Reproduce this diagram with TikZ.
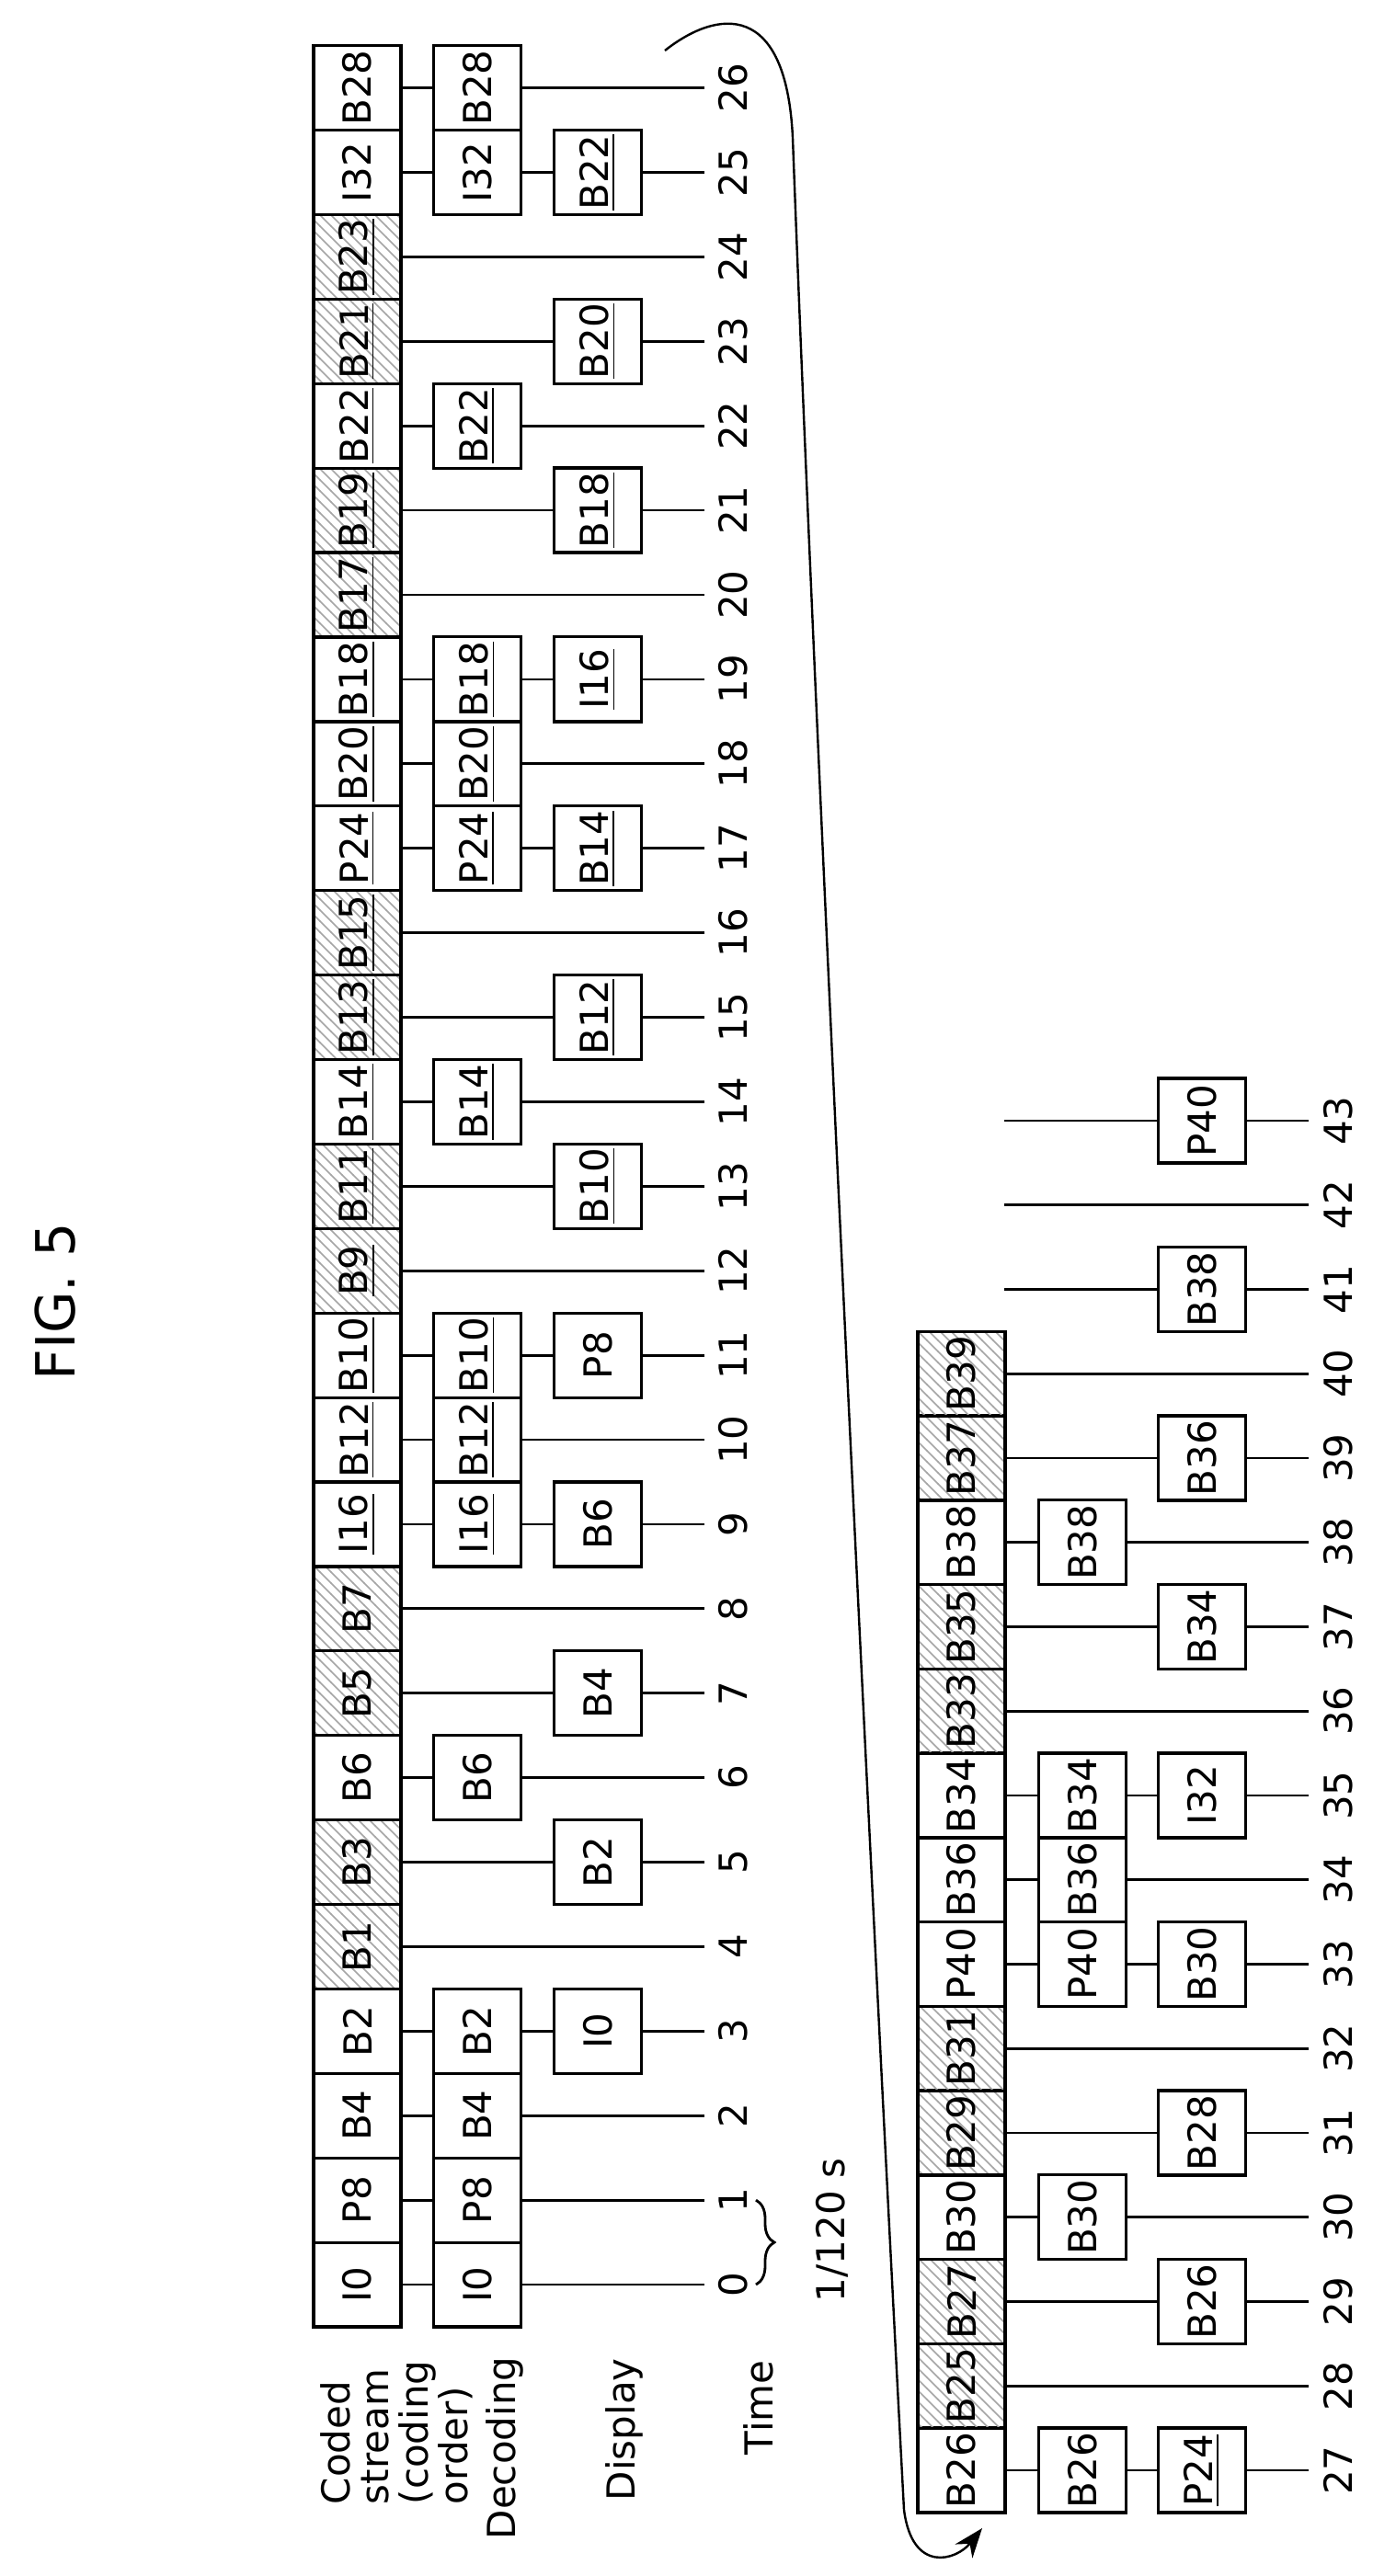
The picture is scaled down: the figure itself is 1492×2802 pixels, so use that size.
\documentclass[tikz,border=0pt]{standalone}
\usepackage{fontspec}
\setmainfont{DejaVu Sans}
\usetikzlibrary{patterns,arrows.meta,decorations.pathreplacing}
\begin{document}
\begin{tikzpicture}[x=0.25pt,y=-0.25pt,
 box/.style={draw,line width=0.8pt,rotate=90,minimum width=23pt,minimum height=23.75pt,inner sep=0pt,font=\fontsize{10.5}{12}\selectfont,fill=white},
 hatch/.style={draw,line width=0.8pt,rotate=90,minimum width=23pt,minimum height=23.75pt,inner sep=0pt,font=\fontsize{10.5}{12}\selectfont,pattern=north west lines,pattern color=gray!70},
 ln/.style={line width=0.7pt},
 lab/.style={rotate=90,font=\fontsize{10.5}{12}\selectfont,inner sep=0pt}]
\useasboundingbox (0,0) rectangle (1492,2802);
\fill[white] (0,0) rectangle (1492,2802);
% ---------- top half ----------
\foreach \t/\l/\s in {0/I0/box,1/P8/box,2/B4/box,3/B2/box,4/B1/hatch,5/B3/hatch,6/B6/box,7/B5/hatch,8/B7/hatch,
 9/\underline{I16}/box,10/\underline{B12}/box,11/\underline{B10}/box,12/\underline{B9}/hatch,13/\underline{B11}/hatch,
 14/\underline{B14}/box,15/\underline{B13}/hatch,16/\underline{B15}/hatch,17/\underline{P24}/box,18/\underline{B20}/box,
 19/\underline{B18}/box,20/\underline{B17}/hatch,21/\underline{B19}/hatch,22/\underline{B22}/box,23/\underline{B21}/hatch,
 24/\underline{B23}/hatch,25/I32/box,26/B28/box}{
  \node[\s] (c\t) at (388.5,{2485-91.9*\t}) {\l};
  \coordinate (e\t) at (766,{2485-91.9*\t});
  \node[lab] (n\t) at (797,{2485-91.9*\t}) {\t};
  \draw[ln] (c\t.south) -- (e\t);
}
\foreach \t/\l in {0/I0,1/P8,2/B4,3/B2,6/B6,9/\underline{I16},10/\underline{B12},11/\underline{B10},14/\underline{B14},
 17/\underline{P24},18/\underline{B20},19/\underline{B18},22/\underline{B22},25/I32,26/B28}{
  \node[box] (d\t) at (519,{2485-91.9*\t}) {\l};
}
\foreach \t/\l in {3/I0,5/B2,7/B4,9/B6,11/P8,13/\underline{B10},15/\underline{B12},17/\underline{B14},19/\underline{I16},
 21/\underline{B18},23/\underline{B20},25/\underline{B22}}{
  \node[box] (p\t) at (650,{2485-91.9*\t}) {\l};
}
% ---------- bottom half ----------
\foreach \t/\l/\s in {27/B26/box,28/B25/hatch,29/B27/hatch,30/B30/box,31/B29/hatch,32/B31/hatch,33/P40/box,
 34/B36/box,35/B34/box,36/B33/hatch,37/B35/hatch,38/B38/box,39/B37/hatch,40/B39/hatch}{
  \node[\s] (c\t) at (1045.5,{2687-91.75*(\t-27)}) {\l};
  \coordinate (e\t) at (1423,{2687-91.75*(\t-27)});
  \draw[ln] (c\t.south) -- (e\t);
}
\foreach \t in {41,42,43}{
  \coordinate (s\t) at (1092,{2687-91.75*(\t-27)});
  \coordinate (e\t) at (1423,{2687-91.75*(\t-27)});
  \draw[ln] (s\t) -- (e\t);
}
\foreach \t in {27,...,43}{
  \node[lab] (n\t) at (1455,{2687-91.75*(\t-27)}) {\t};
}
\foreach \t/\l in {27/B26,30/B30,33/P40,34/B36,35/B34,38/B38}{
  \node[box] (d\t) at (1177,{2687-91.75*(\t-27)}) {\l};
}
\foreach \t/\l in {27/\underline{P24},29/B26,31/B28,33/B30,35/I32,37/B34,39/B36,41/B38,43/P40}{
  \node[box] (p\t) at (1307,{2687-91.75*(\t-27)}) {\l};
}
% ---------- labels ----------
\node[lab,anchor=base west] (l1) at (380,2725) {Coded};
\node[lab,anchor=base west] (l2) at (422,2725) {stream};
\node[lab,anchor=base west] (l3) at (465,2725) {(coding};
\node[lab,anchor=base west] (l4) at (508,2725) {order)};
\node[lab,anchor=base west] (l5) at (560,2763) {Decoding};
\node[lab,anchor=base west] (l6) at (690,2721) {Display};
\node[lab,anchor=base west] (l7) at (840,2671) {Time};
\node[rotate=90,font=\fontsize{14.7}{16}\selectfont,inner sep=0pt] (fig) at (60,1416) {FIG. 5};
% brace 1/120 s
\coordinate (b1) at (822,{2485-91.9}) ;
\coordinate (b0) at (822,2485);
\draw[line width=0.7pt,decorate,decoration={brace,amplitude=5pt}] (b1) -- (b0);
\node[lab,anchor=west] (per) at (905,2505) {1/120 s};
% curved arrow
\coordinate (a0) at (723,55);
\coordinate (a1) at (1068,2750);
\draw[line width=0.6pt,-{Stealth[length=8pt,width=6pt]}] (a0) .. controls (780,10) and (855,0) .. (862,150)
  .. controls (890,900) and (960,2300) .. (983,2730) .. controls (992,2800) and (1040,2785) .. (a1);
\end{tikzpicture}
\end{document}
